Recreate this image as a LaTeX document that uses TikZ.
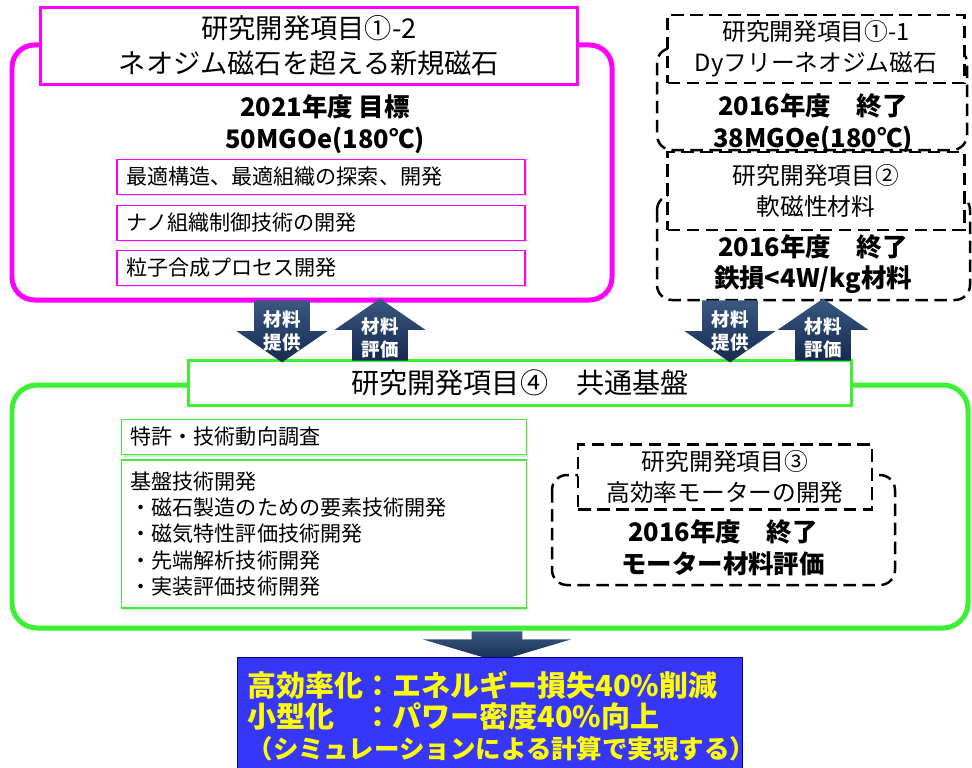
\documentclass[tikz,border=0pt]{standalone}
\usepackage{fontspec}
\setmainfont{Noto Sans CJK JP}
\usetikzlibrary{positioning, shapes.arrows, shadows}

\definecolor{pinkline}{RGB}{255,0,255}
\definecolor{greenline}{RGB}{60,240,50}
\definecolor{navytop}{RGB}{58,88,130}
\definecolor{navybot}{RGB}{20,42,80}
\definecolor{goalblue}{RGB}{55,55,250}
\definecolor{goalyellow}{RGB}{255,255,0}

\begin{document}
\begin{tikzpicture}[
    x=0.02cm, y=-0.02cm,
    pinkframe/.style={
        draw=pinkline,
        line width=0.1cm,
        rounded corners=0.45cm
    },
    greenframe/.style={
        draw=greenline,
        line width=0.1cm,
        rounded corners=0.5cm
    },
    dashframe/.style={
        draw,
        dash pattern=on 0.25cm off 0.13cm,
        line width=0.05cm,
        rounded corners=0.3cm
    },
    pinktitle/.style={
        draw=pinkline,
        line width=0.06cm,
        fill=white,
        minimum width=10.76cm,
        minimum height=1.54cm,
        align=center,
        font=\fontsize{15.5}{20}\selectfont
    },
    pinkitem/.style={
        draw=pinkline,
        line width=0.03cm,
        fill=white,
        minimum height=0.7cm,
        text width=7.8cm,
        inner xsep=0.18cm,
        align=left,
        drop shadow={shadow xshift=0.04cm, shadow yshift=-0.04cm, opacity=0.25},
        font=\fontsize{12}{15}\selectfont
    },
    greenitem/.style={
        pinkitem,
        draw=greenline,
        text width=7.74cm
    },
    greentitle/.style={
        draw=greenline,
        line width=0.06cm,
        fill=white,
        minimum width=13.28cm,
        minimum height=0.9cm,
        font=\fontsize{16}{20}\selectfont
    },
    dashtitle/.style={
        draw,
        dash pattern=on 0.25cm off 0.13cm,
        line width=0.05cm,
        fill=white,
        align=center,
        font=\fontsize{13.5}{17.5}\selectfont
    },
    goaltext/.style={
        align=center,
        font=\bfseries\fontsize{14.5}{18}\selectfont
    },
    blockarrow/.style={
        single arrow,
        draw=none,
        top color=navytop,
        bottom color=navybot,
        inner sep=0pt,
        minimum height=1.24cm,
        single arrow head extend=0.35cm,
        single arrow tip angle=111,
        anchor=tail
    },
    flowlabel/.style={
        text=white,
        align=center,
        inner sep=0pt,
        font=\bfseries\fontsize{10.5}{13}\selectfont
    },
    goalbox/.style={
        draw=blue!55!black,
        fill=goalblue,
        minimum width=10.1cm,
        minimum height=2.36cm,
        text width=9.7cm,
        align=left,
        text=goalyellow,
        font=\bfseries\fontsize{16.5}{17.6}\selectfont
    }
]
\useasboundingbox (0,0) rectangle (972,767);

% item 1-2 (magenta)
\draw[pinkframe] (12,45) rectangle (612,300);
\node[pinktitle] (item12) at (309,46) {研究開発項目①-2\\ネオジム磁石を超える新規磁石};
\node[goaltext] (goal12) at (325,124) {2021年度 目標\\50MGOe(180℃)};
\node[pinkitem] (task1) at (321,177) {最適構造、最適組織の探索、開発};
\node[pinkitem] (task2) at (321,223) {ナノ組織制御技術の開発};
\node[pinkitem] (task3) at (321,268) {粒子合成プロセス開発};

% items 1-1 and 2 (finished)
\draw[dashframe] (657,48) rectangle (967,150);
\draw[dashframe] (657,195) rectangle (970,300);
\node[dashtitle, minimum width=5.94cm, minimum height=1.36cm] (item11) at (816,49) {研究開発項目①-1\\Dyフリーネオジム磁石};
\node[goaltext] (end11) at (813,123) {2016年度　終了\\38MGOe(180℃)};
\node[dashtitle, minimum width=5.94cm, minimum height=1.56cm] (item2) at (816,191) {研究開発項目②\\軟磁性材料};
\node[goaltext] (end2) at (813,264) {2016年度　終了\\鉄損<4W/kg材料};

% item 4 (green)
\draw[greenframe] (12,385) rectangle (968,628);
\node[greentitle] (item4) at (520,383) {研究開発項目④\quad 共通基盤};
\node[greenitem] (survey) at (324,437) {特許・技術動向調査};
\node[greenitem, minimum height=2.96cm] (base) at (324,534) {基盤技術開発\\・磁石製造のための要素技術開発\\・磁気特性評価技術開発\\・先端解析技術開発\\・実装評価技術開発};

% item 3 inside the common base
\draw[dashframe] (552,475) rectangle (895,585);
\node[dashtitle, minimum width=5.88cm, minimum height=1.3cm] (item3) at (725,477) {研究開発項目③\\高効率モーターの開発};
\node[goaltext] (end3) at (723,548) {2016年度　終了\\モーター材料評価};

% material flow
\node[blockarrow, shape border rotate=270] (supply12) at (282,300) {\hspace*{1.1cm}};
\node[blockarrow, shape border rotate=90] (eval12) at (380,361) {\hspace*{1.1cm}};
\node[blockarrow, shape border rotate=270] (supply2) at (730,300) {\hspace*{1.1cm}};
\node[blockarrow, shape border rotate=90] (eval2) at (823,361) {\hspace*{1.1cm}};
\node[flowlabel] (supply12text) at (282,331) {材料\\提供};
\node[flowlabel] (eval12text) at (380,338) {材料\\評価};
\node[flowlabel] (supply2text) at (730,331) {材料\\提供};
\node[flowlabel] (eval2text) at (823,338) {材料\\評価};

% outcome
\node[blockarrow, shape border rotate=270, minimum height=0.6cm,
      single arrow head extend=0.98cm, single arrow tip angle=147] (toGoal) at (497,631) {\hspace*{1cm}};
\node[goalbox] (target) at (490,716) {高効率化：エネルギー損失40\%削減\\小型化　：パワー密度40\%向上\\{\fontsize{14.5}{17.6}\selectfont （シミュレーションによる計算で実現する）}};

\end{tikzpicture}
\end{document}
